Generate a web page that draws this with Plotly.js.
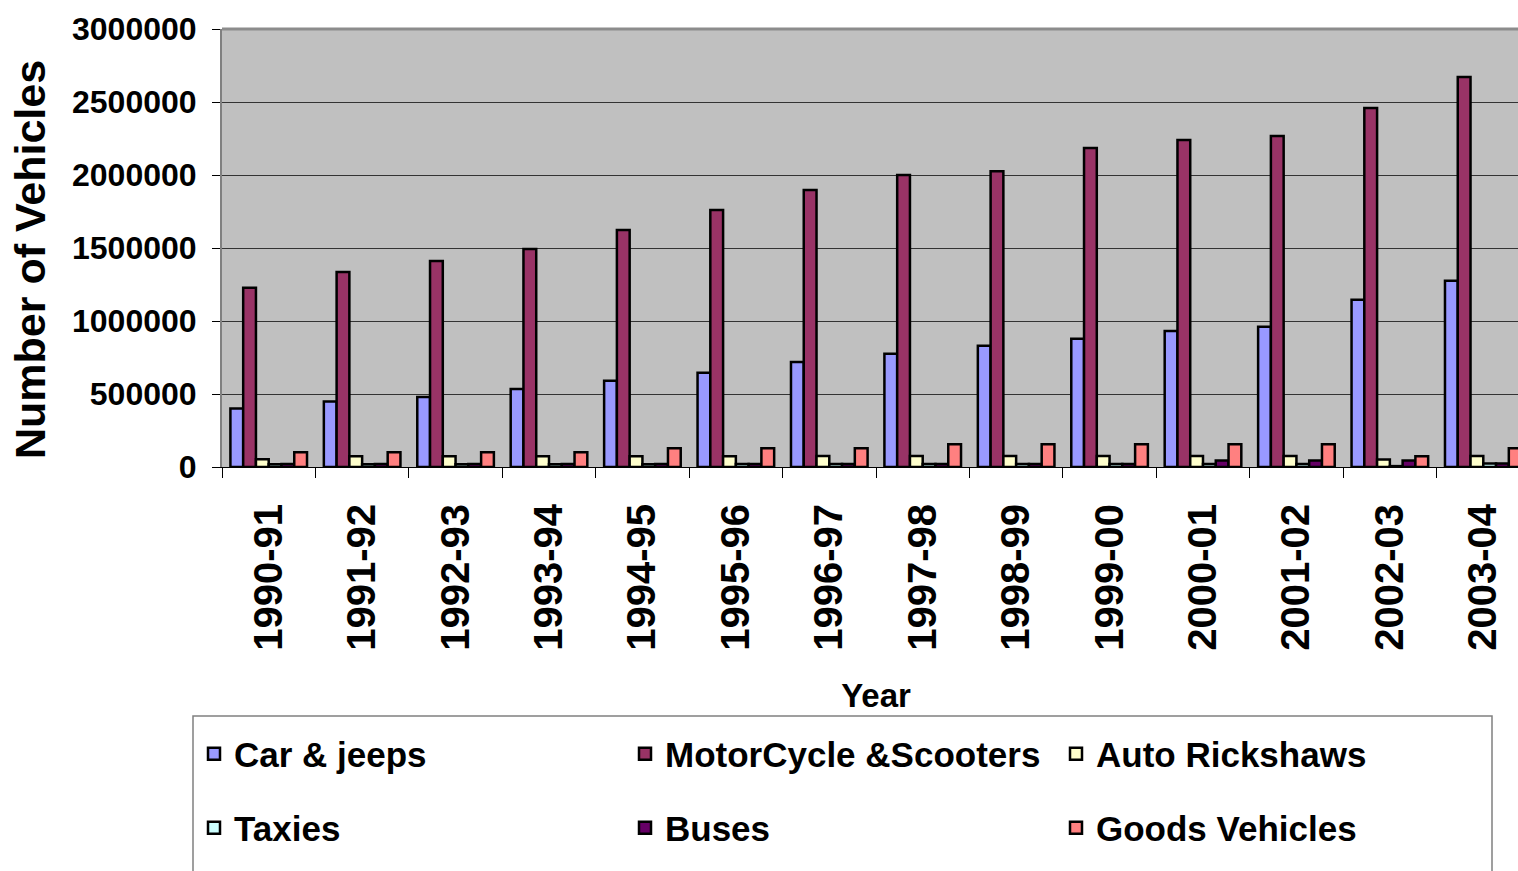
<!DOCTYPE html>
<html>
<head>
<meta charset="utf-8">
<script src="https://cdn.plot.ly/plotly-3.0.1.min.js"></script>
<style>
html, body { margin: 0; padding: 0; overflow: hidden; background: #fff; }
#chart { width: 1530px; height: 871px; }
</style>
</head>
<body>
<div id="chart"></div>
<script>
const years = ["1990-91","1991-92","1992-93","1993-94","1994-95","1995-96","1996-97","1997-98","1998-99","1999-00","2000-01","2001-02","2002-03","2003-04"];
const carsJeeps = [400000,448000,480000,535000,590000,645000,720000,775000,830000,878000,932000,960000,1145000,1275000];
const motorcycles = [1227000,1336000,1411000,1493000,1623000,1760000,1897000,2000000,2025000,2185000,2240000,2267000,2459000,2671000];
const autoRickshaws = [53000,74000,74000,74000,74000,74000,76000,76000,76000,76000,76000,76000,52000,76000];
const taxies = [18000,18000,18000,18000,18000,20000,20000,20000,20000,20000,20000,20000,6000,24000];
const buses = [20000,20000,20000,20000,20000,20000,20000,20000,20000,20000,44000,44000,44000,24000];
const goodsVehicles = [101000,101000,101000,101000,128000,128000,128000,156000,156000,156000,156000,156000,74000,128000];

const seriesNames = ["Car & jeeps","MotorCycle &Scooters","Auto Rickshaws","Taxies","Buses","Goods Vehicles"];
const seriesData = [carsJeeps, motorcycles, autoRickshaws, taxies, buses, goodsVehicles];
const seriesColors = ["#9999FF","#993366","#FFFFCC","#CCFFFF","#660066","#FF8080"];
const seriesLegend = ["legend","legend","legend","legend2","legend2","legend2"];

const FONT = "Liberation Sans, Arial, sans-serif";

const traces = seriesNames.map((name, i) => ({
  type: "bar",
  name: name,
  x: years,
  y: seriesData[i],
  legend: seriesLegend[i],
  marker: { color: seriesColors[i], line: { color: "#000000", width: 2.5 } },
  hoverinfo: "x+y+name"
}));

// plot area geometry (pixels) used to place legend in paper coords
const L = 222, T = 29, PW = 1530 - 222, PH = 467 - 29;
const px = v => (v - L) / PW;
const py = v => (T + PH - v) / PH;

const layout = {
  width: 1530,
  height: 871,
  margin: { l: L, r: 0, t: T, b: 871 - 467, pad: 0 },
  paper_bgcolor: "#ffffff",
  plot_bgcolor: "#C0C0C0",
  barmode: "group",
  bargap: 0.18,
  bargroupgap: 0,
  font: { family: FONT, color: "#000000" },
  xaxis: {
    type: "category",
    tickson: "boundaries",
    ticks: "outside",
    ticklen: 10,
    tickcolor: "#000000",
    tickwidth: 1,
    tickangle: -90,
    tickfont: { family: FONT, size: 40, weight: "bold", color: "#000000" },
    ticklabelstandoff: 20,
    showline: true,
    linecolor: "#000000",
    linewidth: 1,
    showgrid: false,
    zeroline: false,
    title: { text: "Year", font: { family: FONT, size: 33, weight: "bold", color: "#000000" }, standoff: 34 }
  },
  yaxis: {
    range: [0, 3000000],
    dtick: 500000,
    tick0: 0,
    tickformat: "d",
    ticks: "outside",
    ticklen: 8,
    tickcolor: "#000000",
    tickwidth: 1,
    tickfont: { family: FONT, size: 32, weight: "bold", color: "#000000" },
    ticklabelstandoff: 9,
    showline: true,
    linecolor: "#808080",
    linewidth: 2,
    showgrid: true,
    gridcolor: "#333333",
    gridwidth: 1,
    zeroline: false
  },
  annotations: [
    { text: "Number of Vehicles", xref: "paper", yref: "paper", x: px(30), y: py(260), xanchor: "center", yanchor: "middle",
      textangle: -90, showarrow: false, font: { family: FONT, size: 43, weight: "bold", color: "#000000" } }
  ],
  legend: {
    orientation: "h",
    x: px(194), xanchor: "left",
    y: py(754), yanchor: "middle",
    entrywidth: 386,
    bgcolor: "rgba(0,0,0,0)",
    borderwidth: 0,
    font: { family: FONT, size: 35, weight: "bold", color: "#000000" }
  },
  legend2: {
    orientation: "h",
    x: px(194), xanchor: "left",
    y: py(828), yanchor: "middle",
    entrywidth: 386,
    bgcolor: "rgba(0,0,0,0)",
    borderwidth: 0,
    font: { family: FONT, size: 35, weight: "bold", color: "#000000" }
  },
  shapes: [
    { type: "line", xref: "paper", yref: "paper", x0: 0, x1: 1, y0: 1, y1: 1, line: { color: "#8C8C8C", width: 3 } },
    { type: "rect", xref: "paper", yref: "paper", x0: px(193), x1: px(1492), y0: py(716), y1: py(900), line: { color: "#808080", width: 1.5 }, fillcolor: "rgba(0,0,0,0)", layer: "below" }
  ],
  showlegend: true
};

Plotly.newPlot("chart", traces, layout, { displayModeBar: false, staticPlot: true });
</script>
</body>
</html>
